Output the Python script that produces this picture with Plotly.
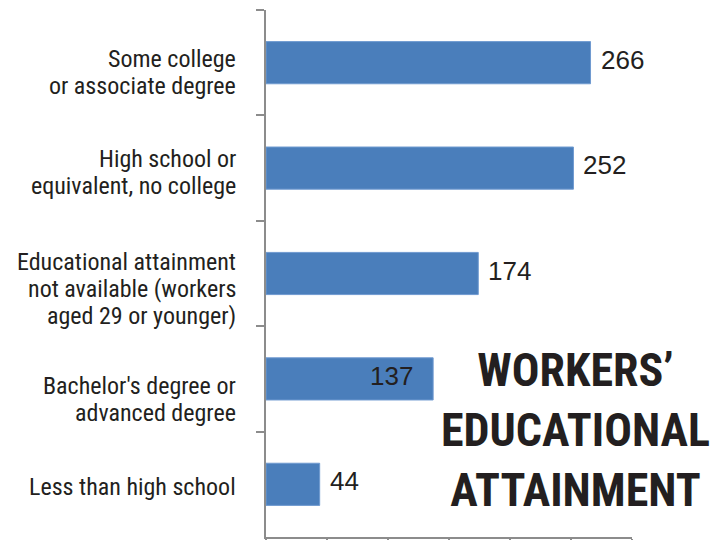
import plotly.graph_objects as go

categories = [
    "Some college<br>or associate degree",
    "High school or<br>equivalent, no college",
    "Educational attainment<br>not available (workers<br>aged 29 or younger)",
    "Bachelor's degree or<br>advanced degree",
    "Less than high school",
]
values = [266, 252, 174, 137, 44]
label_inside = [False, False, False, True, False]
title_text = "WORKERS’<br>EDUCATIONAL<br>ATTAINMENT"

# styling: downward offset (px) of each category label block, line pitch
label_offset_px = [10, 4, 15, 21, 3]
LINE_PITCH = 27

BAR = "#4a7ebb"
TXT = "#231f20"
AX = "#8c8c8c"
NARROW = "Liberation Sans Narrow, Arial Narrow, Roboto Condensed, DejaVu Sans Condensed, sans-serif"

fig = go.Figure()
fig.add_trace(go.Bar(
    x=values, y=categories, orientation="h", width=0.4,
    marker=dict(color=BAR, line=dict(color="#6f9ad0", width=1)),
    hoverinfo="skip",
))

# category labels (one annotation per text line for tight line spacing)
for cat, off in zip(categories, label_offset_px):
    lines = cat.split("<br>")
    n = len(lines)
    for j, ln in enumerate(lines):
        fig.add_annotation(
            x=0, y=cat, xref="paper", yref="y", text=ln, showarrow=False,
            xanchor="right", yanchor="middle", xshift=-28,
            yshift=-(off + (j - (n - 1) / 2) * LINE_PITCH),
            font=dict(family=NARROW, size=24, color=TXT),
        )

for cat, v, inside in zip(categories, values, label_inside):
    fig.add_annotation(
        x=v, y=cat, xref="x", yref="y", text=str(v), showarrow=False,
        xanchor="right" if inside else "left",
        xshift=-18 if inside else 8, yshift=3,
        font=dict(family="Liberation Sans, Arial, sans-serif", size=26, color=TXT),
    )

fig.add_annotation(
    x=(575 - 266) / 366, y=(537 - 430) / 527, xref="paper", yref="paper",
    text=title_text, showarrow=False,
    font=dict(family=NARROW, size=46, color=TXT, weight="bold"),
    align="center", xanchor="center", yanchor="middle",
)

fig.update_layout(
    width=722, height=540,
    margin=dict(l=266, r=90, t=10, b=3, autoexpand=False),
    paper_bgcolor="white", plot_bgcolor="white",
    showlegend=False,
    xaxis=dict(range=[0, 300], dtick=50, showticklabels=False, showgrid=False,
               zeroline=False, showline=True, linecolor=AX, linewidth=2,
               ticks="outside", ticklen=8, tickcolor=AX, tickwidth=2, automargin=False),
    yaxis=dict(categoryorder="array", categoryarray=categories, autorange="reversed",
               showgrid=False, zeroline=False, showline=True, linecolor=AX, linewidth=2,
               ticks="outside", ticklen=8, tickcolor=AX, tickwidth=2, automargin=False,
               tickson="boundaries", showticklabels=False),
)

fig.write_html("out.html", config={"displayModeBar": False},
               post_script="document.body.style.margin='0';document.body.style.padding='0';")
